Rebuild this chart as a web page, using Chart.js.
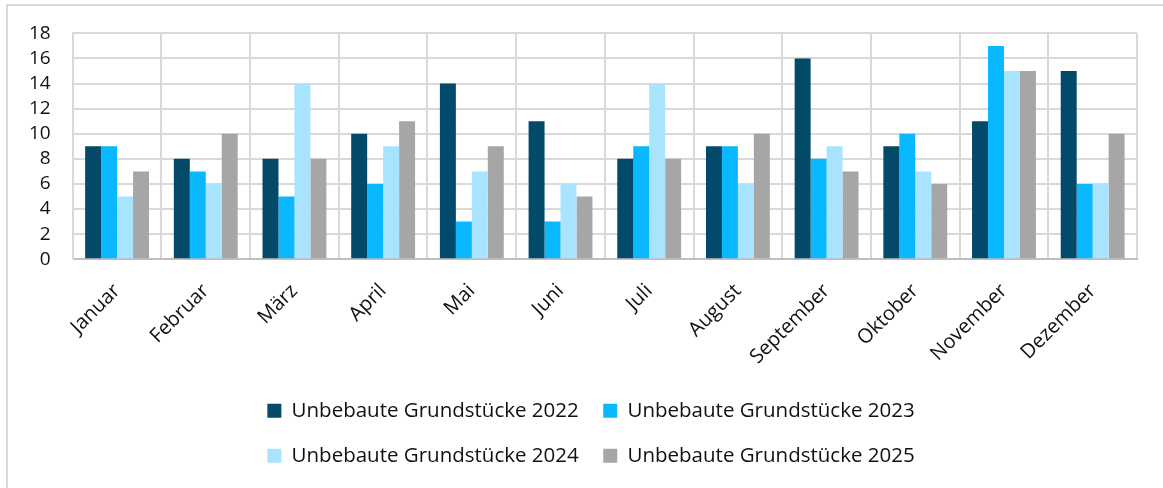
<!DOCTYPE html>
<html><head><meta charset="utf-8">
<script src="https://cdn.jsdelivr.net/npm/chart.js@4/dist/chart.umd.min.js"></script>
<style>
html,body{margin:0;padding:0;background:#fff;}
#wrap{position:relative;width:1163px;height:488px;overflow:hidden;}
#frame{position:absolute;left:6px;top:4px;width:1170px;height:500px;border:2px solid #D9D9D9;box-sizing:border-box;pointer-events:none;}
canvas{position:absolute;left:0;top:0;}
</style></head>
<body><div id="wrap"><canvas id="c" width="1163" height="488"></canvas><div id="frame"></div></div>
<script>
const months = ["Januar","Februar","März","April","Mai","Juni","Juli","August","September","Oktober","November","Dezember"];
const seriesNames = ["Unbebaute Grundstücke 2022","Unbebaute Grundstücke 2023","Unbebaute Grundstücke 2024","Unbebaute Grundstücke 2025"];
const v2022 = [9,8,8,10,14,11,8,9,16,9,11,15];
const v2023 = [9,7,5,6,3,3,9,9,8,10,17,6];
const v2024 = [5,6,14,9,7,6,14,6,9,7,15,6];
const v2025 = [7,10,8,11,9,5,8,10,7,6,15,10];
const colors = ["#02496A","#09B8FF","#A8E4FF","#A6A6A6"];

const legendWrap = {
  id:'legendWrap',
  beforeLayout(chart){
    const lg = chart.legend;
    if(lg && !lg._wrapPatched){
      const f = lg.fit;
      lg.fit = function(){
        const m = this.maxWidth;
        this.maxWidth = 760;
        f.call(this);
        this.maxWidth = m;
        this.width = m;
      };
      const d = lg.draw;
      lg.draw = function(){
        const l = this.left;
        this.left = l + 38;
        d.apply(this, arguments);
        this.left = l;
      };
      lg._wrapPatched = true;
    }
  }
};

const ds = [v2022,v2023,v2024,v2025].map((d,i)=>({
  label: seriesNames[i], data: d, backgroundColor: colors[i],
  barPercentage: 1.0, categoryPercentage: 0.72, borderWidth: 0
}));

new Chart(document.getElementById('c'), {
  type:'bar',
  data:{labels:months, datasets:ds},
  plugins:[legendWrap],
  options:{
    responsive:false, animation:false,
    layout:{padding:{left:7,right:26,top:26,bottom:12}},
    plugins:{
      tooltip:{enabled:false},
      legend:{position:'bottom',
        labels:{font:{family:'Open Sans',size:20.5},color:'#111',boxWidth:14,boxHeight:14,padding:24.5}
      }
    },
    scales:{
      x:{grid:{color:'#D9D9D9',lineWidth:2,drawTicks:false,offset:true},
         border:{color:'#BFBFBF',width:2},
         afterFit(scale){ scale.height -= 13; },
         ticks:{font:{family:'Open Sans',size:20},color:'#111',maxRotation:45,minRotation:45,padding:20}},
      y:{min:0,max:18,
         grid:{color:'#D9D9D9',lineWidth:2,drawTicks:false},
         border:{color:'#D9D9D9',width:2},
         ticks:{stepSize:2,autoSkip:false,font:{family:'Open Sans',size:19},color:'#111',padding:22}}
    }
  }
});
</script></body></html>
